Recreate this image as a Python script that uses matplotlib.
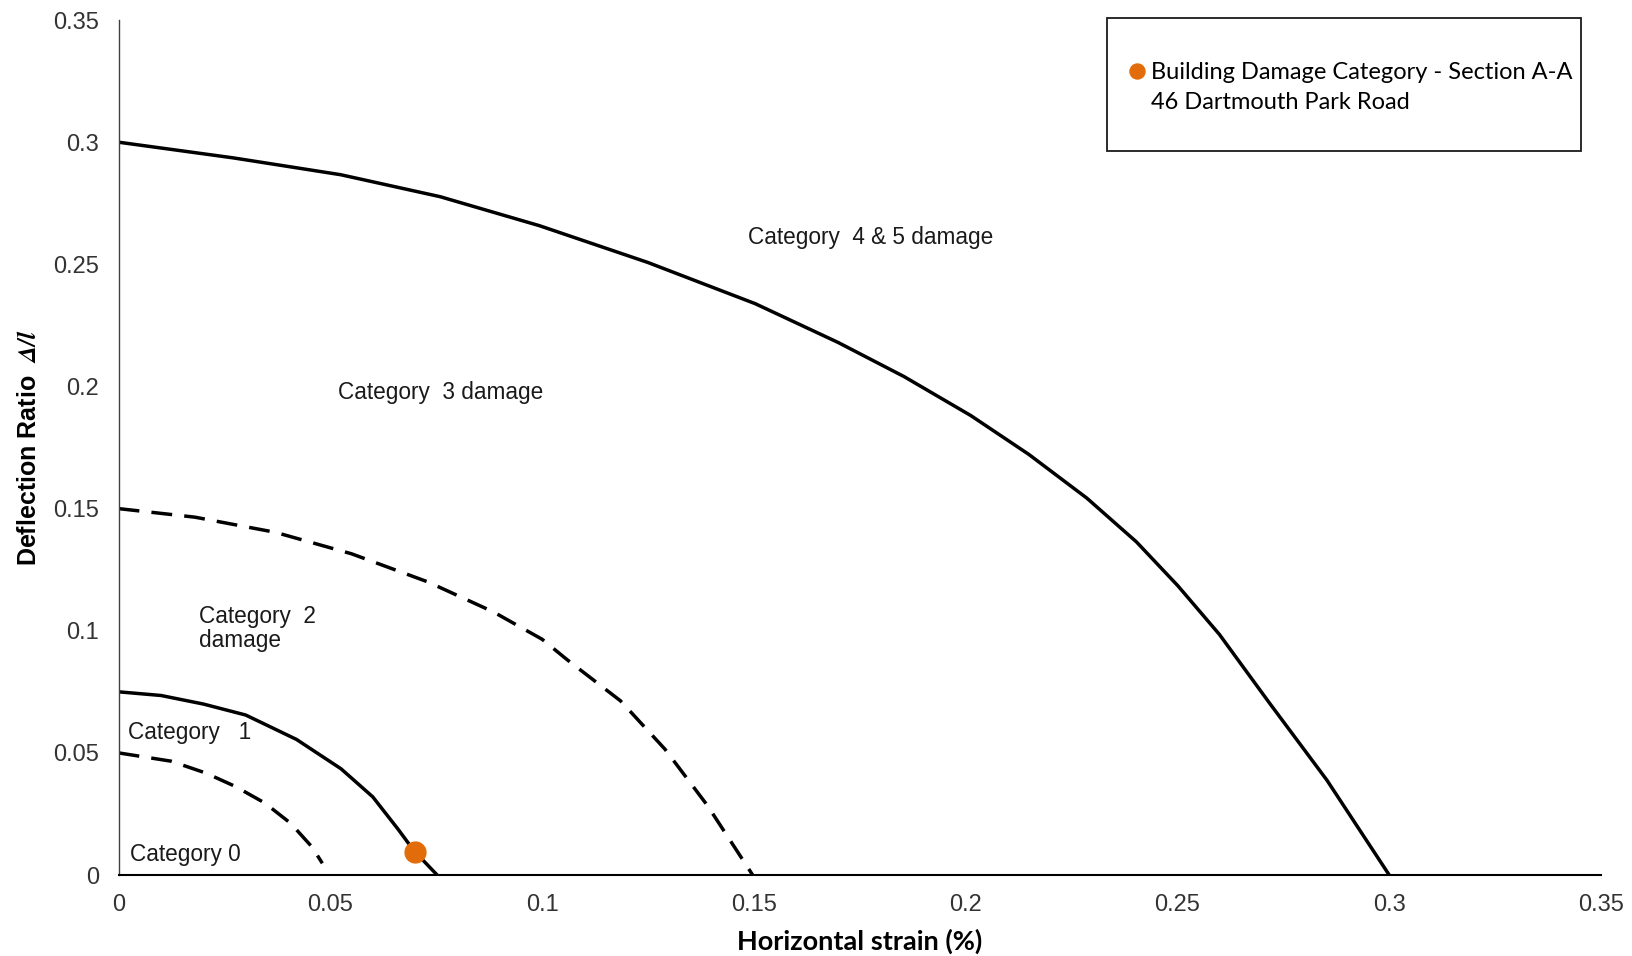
import matplotlib
matplotlib.use("Agg")
import matplotlib.pyplot as plt
from matplotlib.lines import Line2D
from matplotlib.patches import Rectangle

plt.rcParams['font.family'] = ['Liberation Sans', 'DejaVu Sans']
plt.rcParams['mathtext.fontset'] = 'stix'

# boundary curves (horizontal strain %, deflection ratio)
cat01_x = [0, 0.0124, 0.0205, 0.0275, 0.0345, 0.0406, 0.0456, 0.0481]
cat01_y = [0.050, 0.0466, 0.0418, 0.0363, 0.0295, 0.0212, 0.0116, 0.0048]

cat12_x = [0, 0.010, 0.020, 0.030, 0.042, 0.0525, 0.060, 0.066, 0.0697, 0.0752]
cat12_y = [0.075, 0.0735, 0.0700, 0.0655, 0.0555, 0.0435, 0.0320, 0.0187, 0.0100, 0.0]

cat23_x = [0, 0.018, 0.037, 0.055, 0.073, 0.0885, 0.100, 0.106, 0.1185, 0.129, 0.139, 0.1497]
cat23_y = [0.150, 0.1465, 0.1403, 0.1315, 0.1200, 0.1077, 0.0965, 0.0880, 0.0713, 0.0515, 0.0285, 0.0]

cat34_x = [0, 0.027, 0.0524, 0.0759, 0.0994, 0.1249, 0.1503, 0.1699, 0.1855, 0.2012,
           0.2149, 0.2286, 0.2403, 0.2501, 0.2599, 0.2716, 0.2853, 0.300]
cat34_y = [0.300, 0.2936, 0.2867, 0.2777, 0.2658, 0.2508, 0.2339, 0.2180, 0.2040, 0.1881,
           0.1722, 0.1543, 0.1364, 0.1184, 0.0985, 0.0707, 0.0388, 0.0]

point_x = [0.07]
point_y = [0.0095]

zone_labels = ['Category  4 & 5 damage', 'Category  3 damage', 'Category  2\ndamage', 'Category   1', 'Category 0']
zone_x = [0.1485, 0.0519, 0.0190, 0.0023, 0.0027]
zone_y = [0.2611, 0.1976, 0.1010, 0.0585, 0.0085]

ticks = [0, 0.05, 0.1, 0.15, 0.2, 0.25, 0.3, 0.35]
tick_labels = ['0', '0.05', '0.1', '0.15', '0.2', '0.25', '0.3', '0.35']

fig = plt.figure(figsize=(16.32, 9.56), dpi=100)
ax = fig.add_axes([0.0727, 0.0847, 0.9083, 0.8943])

ax.plot(cat01_x, cat01_y, color='black', lw=2.5, dashes=(6, 3.5))
ax.plot(cat12_x, cat12_y, color='black', lw=2.5)
ax.plot(cat23_x, cat23_y, color='black', lw=2.5, dashes=(6, 3.5))
ax.plot(cat34_x, cat34_y, color='black', lw=2.5)
pt, = ax.plot(point_x, point_y, 'o', color='#E36C0A', markersize=15, zorder=5)

for lab, x, y in zip(zone_labels, zone_x, zone_y):
    ax.text(x, y, lab, fontsize=16.3, color='#1a1a1a', ha='left', va='center', linespacing=1.05)

ax.set_xlim(0, 0.35)
ax.set_ylim(0, 0.35)
ax.set_xticks(ticks)
ax.set_xticklabels(tick_labels)
ax.set_yticks(ticks)
ax.set_yticklabels(tick_labels)
ax.tick_params(length=0, labelsize=17, labelcolor='#333333')
ax.tick_params(axis='x', pad=14)
ax.tick_params(axis='y', pad=14)

ax.spines['top'].set_visible(False)
ax.spines['right'].set_visible(False)
ax.spines['left'].set_color('#404040')
ax.spines['left'].set_linewidth(1.0)
ax.spines['bottom'].set_color('black')
ax.spines['bottom'].set_linewidth(1.5)

ax.set_xlabel('Horizontal strain (%)', fontsize=19.5, fontweight='bold', family=['Lato', 'DejaVu Sans'], labelpad=9)
ax.set_ylabel(r'Deflection Ratio  $\mathbfit{\Delta/l}$', fontsize=18, fontweight='bold', labelpad=9)

# legend box
blank = Line2D([], [], linestyle='none')
leg = fig.legend([pt, blank], ['Building Damage Category - Section A-A', '46 Dartmouth Park Road'],
                 loc='upper left', bbox_to_anchor=(1117 / 1632, 1 - 50 / 956),
                 frameon=False, borderpad=0, handlelength=0.7, handletextpad=0.25,
                 labelspacing=0.4, markerscale=0.72,
                 prop={'family': ['Lato', 'DejaVu Sans'], 'size': 17})
fig.patches.append(Rectangle((1107 / 1632, 1 - 151 / 956), 474 / 1632, 133 / 956,
                             transform=fig.transFigure, fill=False, edgecolor='#1a1a1a', lw=1.3))

fig.savefig('out.png', dpi=100)
